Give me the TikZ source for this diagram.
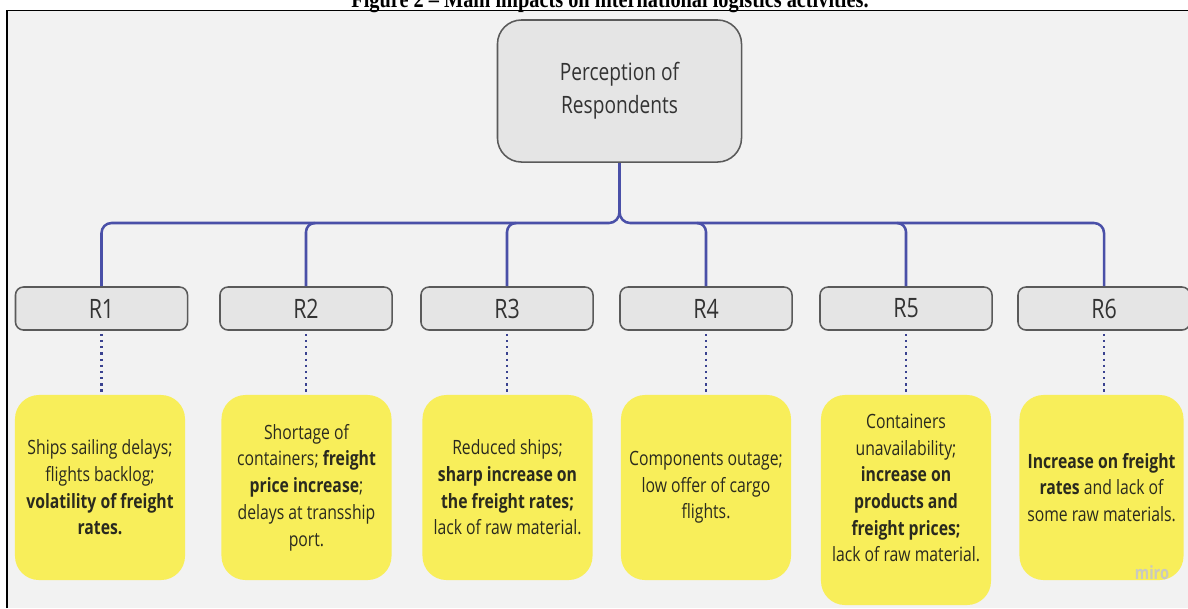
\documentclass[tikz,border=0pt]{standalone}
\usepackage{fontspec}
\newfontfamily\osans{Open Sans}[FakeStretch=0.8]
\newfontfamily\tserif{Liberation Serif}[FakeStretch=0.85]
\definecolor{bgcol}{HTML}{F2F2F2}
\definecolor{boxgray}{HTML}{E5E5E5}
\definecolor{boxedge}{HTML}{5A5A5A}
\definecolor{busblue}{HTML}{4A50A8}
\definecolor{dotblue}{HTML}{3A4290}
\definecolor{stickyyellow}{HTML}{F8EE5A}
\definecolor{txtgray}{HTML}{333333}
\definecolor{stickytxt}{HTML}{2A2A1E}
\definecolor{mirocol}{HTML}{C9C9C0}
\tikzset{
  topbox/.style={draw=boxedge, line width=1.1pt, fill=boxgray, rounded corners=0.6cm,
    minimum width=6.1cm, minimum height=3.55cm, align=center, text=txtgray,
    font=\osans\fontsize{17}{23.5}\selectfont},
  rbox/.style={draw=boxedge, line width=1.1pt, fill=boxgray, rounded corners=0.2cm,
    minimum width=4.3cm, minimum height=1.075cm, text=txtgray,
    font=\osans\fontsize{19}{22}\selectfont},
  sticky/.style={fill=stickyyellow, rounded corners=0.6cm, minimum width=4.25cm,
    minimum height=4.625cm, align=center, text=stickytxt, inner sep=0pt,
    font=\osans\fontsize{14}{19}\selectfont},
  stickytext/.style={align=center, text=stickytxt, inner sep=0pt,
    font=\osans\fontsize{14}{19}\selectfont},
  bus/.style={draw=busblue, line width=1.8pt},
  dots/.style={draw=dotblue, line width=1.6pt, dash pattern=on 1.6pt off 2.8pt},
}
\begin{document}
\begin{tikzpicture}[x=0.025cm, y=-0.025cm]
\useasboundingbox (0,0) rectangle (1188,608);
\clip (0,0) rectangle (1188,608);
\fill[white] (0,0) rectangle (1188,608);
\fill[bgcol] (7,10.5) rectangle (1188,608);

% title (partly cut off at the top, as in the reference)
\node[anchor=base, inner sep=0pt, font=\tserif\bfseries\fontsize{17}{19}\selectfont] (title) at (610,7)
  {Figure 2 – Main impacts on international logistics activities.};

% frame
\draw[black, line width=1.3pt] (7,608) -- (7,10.5) -- (1188,10.5);

% top node
\node[topbox] (top) at (619.5,91) {Perception of\\Respondents};

% R nodes
\node[rbox] (r1) at (101.5,308.5) {R1};
\node[rbox] (r2) at (306,308.5) {R2};
\node[rbox] (r3) at (507,308.5) {R3};
\node[rbox] (r4) at (706,308.5) {R4};
\node[rbox] (r5) at (906,308.5) {R5};
\node[rbox] (r6) at (1104,308.5) {R6};

% yellow notes
\node[sticky] (y1) at (100,487.5) {Ships sailing delays;\\ flights backlog;\\ \textbf{volatility of freight}\\ \textbf{rates.}};
\node[sticky] (y2) at (306.5,487.5) {Shortage of\\ containers; \textbf{freight}\\ \textbf{price increase};\\ delays at transship\\ port.};
\node[sticky] (y3) at (507.5,487.5) {Reduced ships;\\ \textbf{sharp increase on}\\ \textbf{the freight rates;}\\ lack of raw material.};
\node[sticky] (y4) at (706,487.5) {Components outage;\\ low offer of cargo\\ flights.};
\node[sticky, minimum height=5.25cm] (y5) at (906,500) {};
\node[stickytext] (t5) at (906,488) {Containers\\ unavailability;\\ \textbf{increase on}\\ \textbf{products and}\\ \textbf{freight prices;}\\ lack of raw material.};
\node[sticky, minimum width=4.1cm] (y6) at (1101.5,487.5) {\textbf{Increase on freight}\\ \textbf{rates} and lack of\\ some raw materials.};

\node[text=mirocol, font=\osans\bfseries\fontsize{13}{15}\selectfont, inner sep=0pt] (miro) at (1152,573) {miro};

% bus connectors
\coordinate (joint) at (619.5,212);
\draw[bus] (top.south) -- (joint);
\draw[bus] (r1.north) -- (101.5,233) to[out=90,in=180] (111.5,223) -- (609,223) to[out=0,in=-90] (joint);
\draw[bus] (r6.north) -- (1104,233) to[out=90,in=0] (1094,223) -- (630,223) to[out=180,in=-90] (joint);
\draw[bus] (r2.north) -- (306,232) to[out=90,in=180] (315,223);
\draw[bus] (r3.north) -- (507,232) to[out=90,in=180] (516,223);
\draw[bus] (r4.north) -- (706,232) to[out=90,in=0] (697,223);
\draw[bus] (r5.north) -- (906,232) to[out=90,in=0] (897,223);

% dotted connectors
\foreach \i in {1,...,6} {
  \draw[dots] (r\i.south) ++(0,3) -- (r\i.south |- y1.north);
}
\end{tikzpicture}
\end{document}
